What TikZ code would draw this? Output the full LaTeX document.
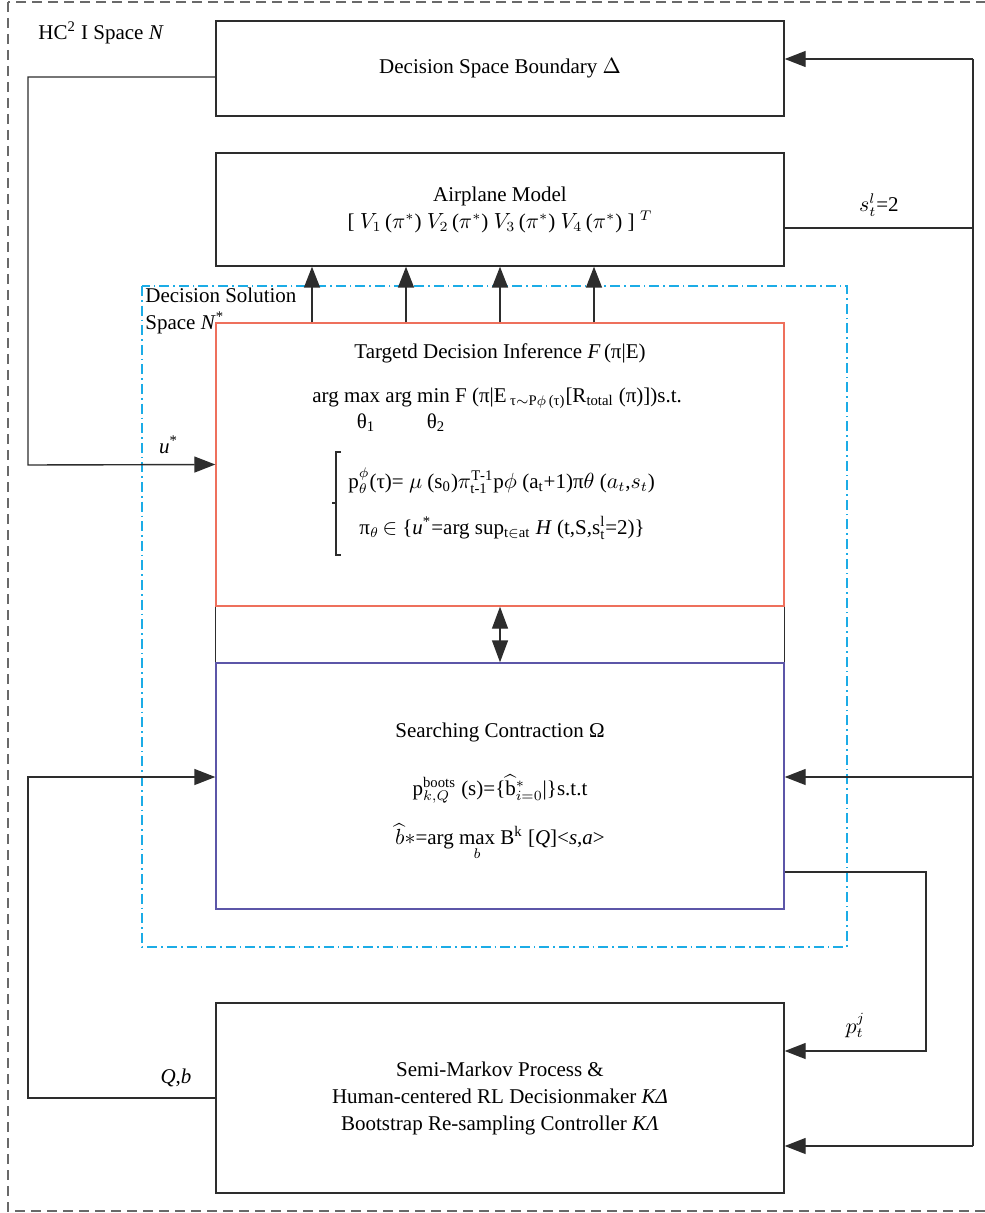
\documentclass[tikz,border=0pt]{standalone}
\usepackage{amsmath}
\usepackage{fontspec}
\setmainfont{Liberation Serif}
\usetikzlibrary{arrows.meta}
\definecolor{darkline}{RGB}{45,45,45}
\definecolor{inferred}{RGB}{238,112,92}
\definecolor{searchblue}{RGB}{92,86,168}
\definecolor{dashcyan}{RGB}{28,172,230}
\definecolor{outergray}{RGB}{105,105,105}
\tikzset{
      block/.style={draw=darkline, line width=0.7, minimum width=284pt, inner sep=0pt, align=center},
      redblock/.style={block, draw=inferred},
      blueblock/.style={block, draw=searchblue},
      flow/.style={draw=darkline, line width=0.7},
      arrowflow/.style={flow, -{Triangle[length=10.5pt,width=8pt]}},
      dblflow/.style={flow, {Triangle[length=11pt,width=8pt]}-{Triangle[length=11pt,width=8pt]}},
      txt/.style={inner sep=0pt, font=\fontsize{10.5}{13.5}\selectfont},
      solspace/.style={draw=dashcyan, line width=0.7, dash pattern=on 5pt off 2pt on 0.8pt off 2pt},
      outerspace/.style={draw=outergray, line width=0.7, dash pattern=on 5pt off 3pt},
}

\begin{document}
\begin{tikzpicture}[x=0.5pt, y=-0.5pt, every node/.style={font=\fontsize{10.5}{13.5}\selectfont}]

        \useasboundingbox (0,0) rectangle (984,1213);

        % spaces
        \draw[outerspace] (8,2) rectangle (992,1211);
        \draw[solspace] (142,286) rectangle (847,947);
        \node[txt, anchor=west] (hcspace) at (38,33) {HC\textsuperscript{2} I Space \textit{N}};
        \node[txt, anchor=west, align=left] (solname) at (145,311) {Decision Solution\\Space \textit{N}\textsuperscript{*}};

        % blocks
        \node[block, minimum height=47.5pt] (boundary) at (500,68.5) {Decision Space Boundary $\Delta$};
        \node[block, minimum height=56.5pt] (airplane) at (500,209.5)
            {Airplane Model\\{[} $V_1$\,($\pi^*$) $V_2$\,($\pi^*$) $V_3$\,($\pi^*$) $V_4$\,($\pi^*$) {]} $^{T}$};
        \node[redblock, minimum height=141.5pt] (inference) at (500,464.5) {};
        \node[blueblock, minimum height=123pt] (searching) at (500,786) {};
        \node[block, minimum height=95pt] (markov) at (500,1098)
            {Semi-Markov Process \&\\Human-centered RL Decisionmaker \textit{KΔ}\\Bootstrap Re-sampling Controller \textit{KΛ}};

        % inference text
        \node[txt] (inftitle) at (500,353) {Targetd Decision Inference \textit{F}\,(π|E)};
        \node[txt, anchor=west] (argline) at (312,398)
            {arg max arg min F (π|E\,\textsubscript{τ$\sim$P$\phi$\,(τ)}[R\textsubscript{total} (π)])s.t.};
        \node[txt] (thetaone) at (366,423) {θ\textsubscript{1}};
        \node[txt] (thetatwo) at (436,423) {θ\textsubscript{2}};
        \draw[flow, line width=0.6] (341,452) -- (336,452) -- (336,555) -- (341,555);
        \draw[flow, line width=0.6] (332,503) -- (336,503);
        \node[txt, anchor=west] (pline) at (348,481)
            {$\mathrm{p}^{\phi}_{\theta}$(τ)= $\mu$ (s\textsubscript{0})$\pi^{\mathrm{T\text{-}1}}_{\mathrm{t\text{-}1}}$p$\phi$ (a\textsubscript{t}+1)π$\theta$ ($a_t$,$s_t$)};
        \node[txt, anchor=west] (piline) at (359,528)
            {π$_\theta$\,$\in$ \{\textit{u}\textsuperscript{*}=arg sup\textsubscript{t$\in$at} \textit{H} (t,S,s$^{\mathrm{l}}_{\mathrm{t}}$=2)\}};

        % searching text
        \node[txt] (srchtitle) at (500,732) {Searching Contraction Ω};
        \node[txt] (bootline) at (500,789) {$\mathrm{p}^{\mathrm{boots}}_{k,Q}$ (s)=\{$\widehat{\mathrm{b}}{}^{*}_{i=0}$|\}s.t.t};
        \node[txt] (bhatline) at (500,842) {$\widehat{b}{\ast}$=arg $\mathop{\mbox{max}}\limits_{b}$ B\textsuperscript{k} [\textit{Q}]<\textit{s},\textit{a}>};

        % links between blocks
        \draw[flow] (inference.south west) -- (searching.north west);
        \draw[flow] (inference.south east) -- (searching.north east);
        \draw[dblflow] (inference.south) -- (searching.north);
        \foreach \x in {312,406,500,594}
            \draw[arrowflow] (\x,0 |- inference.north) -- (\x,0 |- airplane.south);

        % feedback rail
        \coordinate (railtop) at (973,59);
        \coordinate (railin) at (973,228);
        \coordinate (railmid) at (973,777);
        \coordinate (railbot) at (973,1146);
        \draw[flow] (railtop) -- (railbot);
        \draw[flow] ([yshift=-9.25pt]airplane.east) -- node[above, yshift=2pt] {$s^{l}_{t}$=2} (railin);
        \draw[arrowflow] (railtop) -- ([yshift=4.75pt]boundary.east);
        \draw[arrowflow] (railmid) -- ([yshift=4.5pt]searching.east);
        \draw[arrowflow] (railbot) -- ([yshift=-24pt]markov.east);

        \draw[arrowflow] ([yshift=-43pt]searching.east) -| (926,1051)
            -- node[above, yshift=3pt] {$p^{j}_{t}$} ([yshift=23.5pt]markov.east);
        \draw[arrowflow] ([yshift=-4.25pt]boundary.west) -| (28,465)
            -- node[above, pos=0.75, yshift=2pt] {\textit{u}\textsuperscript{*}} (inference.west);
        \draw[arrowflow] (markov.west) -- node[above, pos=0.21, yshift=2pt] {\textit{Q},\textit{b}} (28,1098)
            |- ([yshift=4.5pt]searching.west);

    \end{tikzpicture}
\end{document}
